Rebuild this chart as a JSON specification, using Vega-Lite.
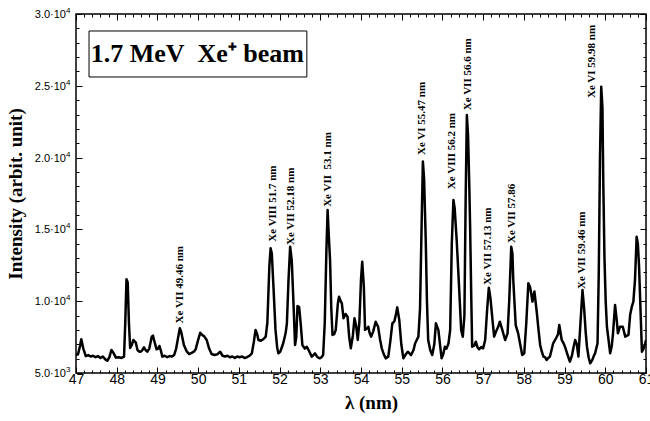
{
  "$schema": "https://vega.github.io/schema/vega-lite/v6.json",
  "width": 570,
  "height": 359,
  "autosize": {"type": "none"},
  "padding": {"left": 76, "top": 14, "right": 4, "bottom": 48},
  "background": "white",
  "config": {
    "view": {"stroke": "black", "strokeWidth": 1.5},
    "axis": {"grid": false, "domain": false, "tickColor": "black", "tickWidth": 1, "labelColor": "black", "titleColor": "black"}
  },
  "datasets": {
    "spectrum": [
      {"wl": 47.00, "I": 6250}, {"wl": 47.05, "I": 6300}, {"wl": 47.10, "I": 6900}, {"wl": 47.13, "I": 7350}, {"wl": 47.18, "I": 6700},
      {"wl": 47.24, "I": 6180}, {"wl": 47.30, "I": 6250}, {"wl": 47.36, "I": 6150}, {"wl": 47.42, "I": 6200}, {"wl": 47.48, "I": 6100},
      {"wl": 47.54, "I": 6180}, {"wl": 47.60, "I": 6050}, {"wl": 47.66, "I": 6150}, {"wl": 47.72, "I": 5950}, {"wl": 47.77, "I": 5850},
      {"wl": 47.82, "I": 6100}, {"wl": 47.87, "I": 6600}, {"wl": 47.92, "I": 6400}, {"wl": 47.98, "I": 6070}, {"wl": 48.05, "I": 6100},
      {"wl": 48.12, "I": 6050}, {"wl": 48.18, "I": 6140}, {"wl": 48.21, "I": 8500}, {"wl": 48.24, "I": 11525}, {"wl": 48.27, "I": 11300},
      {"wl": 48.30, "I": 8500}, {"wl": 48.33, "I": 6740}, {"wl": 48.37, "I": 6950}, {"wl": 48.41, "I": 7300}, {"wl": 48.47, "I": 7110},
      {"wl": 48.51, "I": 6600}, {"wl": 48.55, "I": 6500}, {"wl": 48.59, "I": 6480}, {"wl": 48.63, "I": 6600}, {"wl": 48.67, "I": 6790},
      {"wl": 48.71, "I": 6600}, {"wl": 48.75, "I": 6480}, {"wl": 48.80, "I": 6700}, {"wl": 48.86, "I": 7530}, {"wl": 48.89, "I": 7600},
      {"wl": 48.92, "I": 7250}, {"wl": 48.98, "I": 6650}, {"wl": 49.02, "I": 6700}, {"wl": 49.05, "I": 6880}, {"wl": 49.09, "I": 6500},
      {"wl": 49.12, "I": 6140}, {"wl": 49.18, "I": 6200}, {"wl": 49.24, "I": 6100}, {"wl": 49.30, "I": 6180}, {"wl": 49.36, "I": 6150},
      {"wl": 49.41, "I": 6250}, {"wl": 49.46, "I": 6700}, {"wl": 49.51, "I": 7500}, {"wl": 49.55, "I": 8110}, {"wl": 49.58, "I": 7900},
      {"wl": 49.65, "I": 6950}, {"wl": 49.72, "I": 6500}, {"wl": 49.78, "I": 6320}, {"wl": 49.84, "I": 6400}, {"wl": 49.90, "I": 6500},
      {"wl": 49.94, "I": 6650}, {"wl": 49.99, "I": 7200}, {"wl": 50.05, "I": 7800}, {"wl": 50.10, "I": 7650}, {"wl": 50.15, "I": 7550},
      {"wl": 50.21, "I": 7300}, {"wl": 50.27, "I": 6700}, {"wl": 50.33, "I": 6320}, {"wl": 50.40, "I": 6250}, {"wl": 50.47, "I": 6300},
      {"wl": 50.54, "I": 6480}, {"wl": 50.60, "I": 6200}, {"wl": 50.66, "I": 6150}, {"wl": 50.72, "I": 6200}, {"wl": 50.78, "I": 6100},
      {"wl": 50.84, "I": 6150}, {"wl": 50.90, "I": 6050}, {"wl": 50.96, "I": 6150}, {"wl": 51.02, "I": 6100}, {"wl": 51.08, "I": 6150},
      {"wl": 51.14, "I": 6050}, {"wl": 51.19, "I": 6090}, {"wl": 51.26, "I": 6200}, {"wl": 51.32, "I": 6370}, {"wl": 51.37, "I": 7200},
      {"wl": 51.41, "I": 8000}, {"wl": 51.45, "I": 7700}, {"wl": 51.48, "I": 7300}, {"wl": 51.54, "I": 7250}, {"wl": 51.60, "I": 7350},
      {"wl": 51.66, "I": 7530}, {"wl": 51.70, "I": 8500}, {"wl": 51.75, "I": 12500}, {"wl": 51.78, "I": 13680}, {"wl": 51.81, "I": 13300},
      {"wl": 51.85, "I": 11000}, {"wl": 51.90, "I": 8000}, {"wl": 51.94, "I": 6800}, {"wl": 51.97, "I": 6370}, {"wl": 52.02, "I": 6500},
      {"wl": 52.09, "I": 7070}, {"wl": 52.15, "I": 7800}, {"wl": 52.18, "I": 8460}, {"wl": 52.22, "I": 11500}, {"wl": 52.26, "I": 13800},
      {"wl": 52.30, "I": 12800}, {"wl": 52.34, "I": 10000}, {"wl": 52.38, "I": 6950}, {"wl": 52.41, "I": 7500}, {"wl": 52.44, "I": 9670},
      {"wl": 52.48, "I": 9600}, {"wl": 52.52, "I": 8400}, {"wl": 52.56, "I": 6950}, {"wl": 52.62, "I": 6700}, {"wl": 52.67, "I": 6830},
      {"wl": 52.73, "I": 6500}, {"wl": 52.79, "I": 6140}, {"wl": 52.83, "I": 6250}, {"wl": 52.87, "I": 6370}, {"wl": 52.93, "I": 6100},
      {"wl": 52.99, "I": 6020}, {"wl": 53.03, "I": 6100}, {"wl": 53.07, "I": 6250}, {"wl": 53.11, "I": 8500}, {"wl": 53.15, "I": 13500},
      {"wl": 53.18, "I": 16350}, {"wl": 53.21, "I": 14500}, {"wl": 53.24, "I": 12870}, {"wl": 53.27, "I": 9500}, {"wl": 53.30, "I": 7650},
      {"wl": 53.34, "I": 7700}, {"wl": 53.38, "I": 8000}, {"wl": 53.43, "I": 9800}, {"wl": 53.46, "I": 10310}, {"wl": 53.50, "I": 10000},
      {"wl": 53.53, "I": 9850}, {"wl": 53.57, "I": 8810}, {"wl": 53.62, "I": 9110}, {"wl": 53.67, "I": 8920}, {"wl": 53.71, "I": 7500},
      {"wl": 53.75, "I": 6720}, {"wl": 53.80, "I": 7600}, {"wl": 53.84, "I": 8810}, {"wl": 53.88, "I": 8300}, {"wl": 53.92, "I": 7300},
      {"wl": 53.96, "I": 8500}, {"wl": 54.00, "I": 11500}, {"wl": 54.03, "I": 12750}, {"wl": 54.07, "I": 11000}, {"wl": 54.10, "I": 8000},
      {"wl": 54.14, "I": 8100}, {"wl": 54.18, "I": 8220}, {"wl": 54.21, "I": 7800}, {"wl": 54.25, "I": 7530}, {"wl": 54.30, "I": 7900},
      {"wl": 54.36, "I": 8570}, {"wl": 54.42, "I": 8220}, {"wl": 54.47, "I": 7300}, {"wl": 54.51, "I": 6720}, {"wl": 54.56, "I": 6300},
      {"wl": 54.61, "I": 6020}, {"wl": 54.67, "I": 6140}, {"wl": 54.72, "I": 7200}, {"wl": 54.77, "I": 8460}, {"wl": 54.82, "I": 8600},
      {"wl": 54.86, "I": 9100}, {"wl": 54.89, "I": 9570}, {"wl": 54.94, "I": 8690}, {"wl": 54.99, "I": 7000}, {"wl": 55.04, "I": 6020},
      {"wl": 55.10, "I": 6300}, {"wl": 55.15, "I": 6480}, {"wl": 55.23, "I": 6250}, {"wl": 55.29, "I": 6600}, {"wl": 55.33, "I": 7070},
      {"wl": 55.41, "I": 7530}, {"wl": 55.45, "I": 9500}, {"wl": 55.49, "I": 15500}, {"wl": 55.52, "I": 19720}, {"wl": 55.55, "I": 18500},
      {"wl": 55.59, "I": 14260}, {"wl": 55.62, "I": 10000}, {"wl": 55.65, "I": 7300}, {"wl": 55.70, "I": 6600}, {"wl": 55.75, "I": 6250},
      {"wl": 55.80, "I": 7000}, {"wl": 55.84, "I": 8460}, {"wl": 55.90, "I": 8000}, {"wl": 55.94, "I": 7000}, {"wl": 55.98, "I": 6020},
      {"wl": 56.02, "I": 6300}, {"wl": 56.06, "I": 6830}, {"wl": 56.10, "I": 6700}, {"wl": 56.15, "I": 7070}, {"wl": 56.19, "I": 8000},
      {"wl": 56.23, "I": 14000}, {"wl": 56.27, "I": 17050}, {"wl": 56.30, "I": 16500}, {"wl": 56.35, "I": 14260}, {"wl": 56.40, "I": 11500},
      {"wl": 56.46, "I": 8000}, {"wl": 56.50, "I": 7530}, {"wl": 56.54, "I": 9000}, {"wl": 56.57, "I": 17000}, {"wl": 56.60, "I": 22970},
      {"wl": 56.63, "I": 21500}, {"wl": 56.66, "I": 18000}, {"wl": 56.68, "I": 15190}, {"wl": 56.71, "I": 10000}, {"wl": 56.73, "I": 6830},
      {"wl": 56.78, "I": 6900}, {"wl": 56.82, "I": 7180}, {"wl": 56.86, "I": 6800}, {"wl": 56.90, "I": 6650}, {"wl": 56.95, "I": 6800},
      {"wl": 57.00, "I": 6720}, {"wl": 57.05, "I": 7300}, {"wl": 57.10, "I": 9500}, {"wl": 57.14, "I": 10940}, {"wl": 57.18, "I": 10200},
      {"wl": 57.23, "I": 8690}, {"wl": 57.27, "I": 7530}, {"wl": 57.32, "I": 7900}, {"wl": 57.37, "I": 8220}, {"wl": 57.41, "I": 8570},
      {"wl": 57.46, "I": 8110}, {"wl": 57.50, "I": 7700}, {"wl": 57.54, "I": 7300}, {"wl": 57.60, "I": 7760}, {"wl": 57.64, "I": 10000},
      {"wl": 57.69, "I": 13800}, {"wl": 57.72, "I": 13300}, {"wl": 57.74, "I": 11480}, {"wl": 57.80, "I": 8340}, {"wl": 57.86, "I": 7760},
      {"wl": 57.91, "I": 7000}, {"wl": 57.96, "I": 6250}, {"wl": 58.01, "I": 6370}, {"wl": 58.06, "I": 8500}, {"wl": 58.11, "I": 11250},
      {"wl": 58.15, "I": 11000}, {"wl": 58.18, "I": 10550}, {"wl": 58.21, "I": 9970}, {"wl": 58.26, "I": 10670}, {"wl": 58.32, "I": 9160},
      {"wl": 58.36, "I": 8000}, {"wl": 58.40, "I": 6950}, {"wl": 58.44, "I": 6500}, {"wl": 58.48, "I": 6140}, {"wl": 58.52, "I": 6100},
      {"wl": 58.56, "I": 5905}, {"wl": 58.60, "I": 6050}, {"wl": 58.64, "I": 6140}, {"wl": 58.68, "I": 6600}, {"wl": 58.72, "I": 7070},
      {"wl": 58.79, "I": 7420}, {"wl": 58.84, "I": 7700}, {"wl": 58.87, "I": 8340}, {"wl": 58.93, "I": 7300}, {"wl": 58.97, "I": 7100},
      {"wl": 59.01, "I": 6830}, {"wl": 59.07, "I": 6300}, {"wl": 59.13, "I": 5790}, {"wl": 59.18, "I": 6200}, {"wl": 59.22, "I": 6800},
      {"wl": 59.26, "I": 7300}, {"wl": 59.30, "I": 7000}, {"wl": 59.34, "I": 6140}, {"wl": 59.38, "I": 8000}, {"wl": 59.44, "I": 10780},
      {"wl": 59.48, "I": 9500}, {"wl": 59.52, "I": 7800}, {"wl": 59.55, "I": 6830}, {"wl": 59.59, "I": 6100}, {"wl": 59.63, "I": 5675},
      {"wl": 59.68, "I": 5900}, {"wl": 59.72, "I": 6200}, {"wl": 59.75, "I": 6370}, {"wl": 59.81, "I": 7070}, {"wl": 59.84, "I": 12000},
      {"wl": 59.87, "I": 20000}, {"wl": 59.90, "I": 24940}, {"wl": 59.93, "I": 23500}, {"wl": 59.95, "I": 18440}, {"wl": 59.98, "I": 13000},
      {"wl": 60.01, "I": 10000}, {"wl": 60.04, "I": 8220}, {"wl": 60.08, "I": 7300}, {"wl": 60.12, "I": 6370}, {"wl": 60.16, "I": 6900},
      {"wl": 60.19, "I": 7760}, {"wl": 60.24, "I": 9735}, {"wl": 60.28, "I": 8700}, {"wl": 60.31, "I": 7760}, {"wl": 60.36, "I": 8220},
      {"wl": 60.43, "I": 8220}, {"wl": 60.49, "I": 7530}, {"wl": 60.57, "I": 7650}, {"wl": 60.61, "I": 9040}, {"wl": 60.65, "I": 9600},
      {"wl": 60.69, "I": 9970}, {"wl": 60.73, "I": 11500}, {"wl": 60.77, "I": 14490}, {"wl": 60.80, "I": 14000}, {"wl": 60.83, "I": 12400},
      {"wl": 60.87, "I": 9000}, {"wl": 60.90, "I": 6480}, {"wl": 60.94, "I": 6700}, {"wl": 60.98, "I": 7070}, {"wl": 61.00, "I": 7300}
    ],
    "peaks": [
      {"x": 49.555, "y": 8450, "label": "Xe VII 49.46 nm"},
      {"x": 51.83, "y": 14140, "label": "Xe VIII 51.7 nm"},
      {"x": 52.29, "y": 13910, "label": "Xe VII 52.18 nm"},
      {"x": 53.20, "y": 16570, "label": "Xe VII\u00a0 53.1 nm"},
      {"x": 55.50, "y": 20180, "label": "Xe VI 55.47 nm"},
      {"x": 56.245, "y": 17800, "label": "Xe VIII 56.2 nm"},
      {"x": 56.64, "y": 23300, "label": "Xe VII 56.6 nm"},
      {"x": 57.13, "y": 11130, "label": "Xe VII 57.13 nm"},
      {"x": 57.70, "y": 14050, "label": "Xe VII 57.86"},
      {"x": 59.44, "y": 10850, "label": "Xe VII 59.46 nm"},
      {"x": 59.67, "y": 24150, "label": "Xe VI 59.98 nm"}
    ],
    "ylabels": [
      {"v": 5000, "m": "5.0·10", "e": "3"},
      {"v": 10000, "m": "1.0·10", "e": "4"},
      {"v": 15000, "m": "1.5·10", "e": "4"},
      {"v": 20000, "m": "2.0·10", "e": "4"},
      {"v": 25000, "m": "2.5·10", "e": "4"},
      {"v": 30000, "m": "3.0·10", "e": "4"}
    ],
    "box": [{"x": 47.32, "x2": 52.67, "y": 28817, "y2": 25613}],
    "boxtext": [{"x": 49.98, "y": 26658, "t": "1.7 MeV\u00a0 Xe\u207a beam"}]
  },
  "layer": [
    {
      "data": {"name": "spectrum"},
      "mark": {"type": "line", "color": "black", "strokeWidth": 2.5, "strokeJoin": "round", "clip": true},
      "encoding": {
        "x": {
          "field": "wl", "type": "quantitative",
          "scale": {"domain": [47, 61], "nice": false, "zero": false},
          "axis": {
            "orient": "bottom",
            "values": [47,47.2,47.4,47.6,47.8,48,48.2,48.4,48.6,48.8,49,49.2,49.4,49.6,49.8,50,50.2,50.4,50.6,50.8,51,51.2,51.4,51.6,51.8,52,52.2,52.4,52.6,52.8,53,53.2,53.4,53.6,53.8,54,54.2,54.4,54.6,54.8,55,55.2,55.4,55.6,55.8,56,56.2,56.4,56.6,56.8,57,57.2,57.4,57.6,57.8,58,58.2,58.4,58.6,58.8,59,59.2,59.4,59.6,59.8,60,60.2,60.4,60.6,60.8,61],
            "labelExpr": "datum.value % 1 === 0 ? format(datum.value, 'd') : ''",
            "tickSize": {"condition": {"test": "datum.value % 1 === 0", "value": -6}, "value": -3},
            "labelFont": "Liberation Sans", "labelFontSize": 14, "labelPadding": 5,
            "labelFlush": false, "labelOverlap": false,
            "title": "λ (nm)", "titleFont": "Liberation Serif", "titleFontWeight": "bold", "titleFontSize": 19, "titlePadding": 4,
            "titleX": 295
          }
        },
        "y": {
          "field": "I", "type": "quantitative",
          "scale": {"domain": [5000, 30000], "nice": false, "zero": false},
          "axis": {
            "orient": "left",
            "values": [5000,6000,7000,8000,9000,10000,11000,12000,13000,14000,15000,16000,17000,18000,19000,20000,21000,22000,23000,24000,25000,26000,27000,28000,29000,30000],
            "labels": false,
            "tickSize": {"condition": {"test": "datum.value % 5000 === 0", "value": -6}, "value": -3},
            "title": "Intensity (arbit. unit)", "titleFont": "Liberation Serif", "titleFontWeight": "bold", "titleFontSize": 19, "titlePadding": 50
          }
        }
      }
    },
    {
      "data": {"name": "peaks"},
      "mark": {"type": "text", "angle": 270, "align": "left", "baseline": "middle", "font": "Liberation Serif", "fontWeight": "bold", "fontSize": 11, "color": "black"},
      "encoding": {
        "x": {
          "field": "x", "type": "quantitative",
          "scale": {"domain": [47, 61], "nice": false, "zero": false},
          "axis": {
            "orient": "top", "labels": false, "title": null,
            "values": [47,47.2,47.4,47.6,47.8,48,48.2,48.4,48.6,48.8,49,49.2,49.4,49.6,49.8,50,50.2,50.4,50.6,50.8,51,51.2,51.4,51.6,51.8,52,52.2,52.4,52.6,52.8,53,53.2,53.4,53.6,53.8,54,54.2,54.4,54.6,54.8,55,55.2,55.4,55.6,55.8,56,56.2,56.4,56.6,56.8,57,57.2,57.4,57.6,57.8,58,58.2,58.4,58.6,58.8,59,59.2,59.4,59.6,59.8,60,60.2,60.4,60.6,60.8,61],
            "tickSize": {"condition": {"test": "datum.value % 1 === 0", "value": -6}, "value": -3}
          }
        },
        "y": {
          "field": "y", "type": "quantitative",
          "scale": {"domain": [5000, 30000], "nice": false, "zero": false},
          "axis": {
            "orient": "right", "labels": false, "title": null,
            "values": [5000,6000,7000,8000,9000,10000,11000,12000,13000,14000,15000,16000,17000,18000,19000,20000,21000,22000,23000,24000,25000,26000,27000,28000,29000,30000],
            "tickSize": {"condition": {"test": "datum.value % 5000 === 0", "value": -6}, "value": -3}
          }
        },
        "text": {"field": "label"}
      }
    },
    {
      "data": {"name": "ylabels"},
      "mark": {"type": "text", "align": "right", "baseline": "middle", "dx": -10, "dy": 1, "font": "Liberation Sans", "fontSize": 11, "color": "black"},
      "encoding": {
        "x": {"datum": 47, "type": "quantitative", "axis": null},
        "y": {"field": "v", "type": "quantitative", "axis": null},
        "text": {"field": "m"}
      }
    },
    {
      "data": {"name": "ylabels"},
      "mark": {"type": "text", "align": "left", "baseline": "middle", "dx": -10, "dy": -3, "font": "Liberation Sans", "fontSize": 8, "color": "black"},
      "encoding": {
        "x": {"datum": 47, "type": "quantitative", "axis": null},
        "y": {"field": "v", "type": "quantitative", "axis": null},
        "text": {"field": "e"}
      }
    },
    {
      "data": {"name": "box"},
      "mark": {"type": "rect", "fill": "white", "stroke": "black", "strokeWidth": 1},
      "encoding": {
        "x": {"field": "x", "type": "quantitative", "axis": null},
        "x2": {"field": "x2"},
        "y": {"field": "y", "type": "quantitative", "axis": null},
        "y2": {"field": "y2"}
      }
    },
    {
      "data": {"name": "boxtext"},
      "mark": {"type": "text", "align": "center", "baseline": "alphabetic", "font": "Liberation Serif", "fontWeight": "bold", "fontSize": 26, "color": "black"},
      "encoding": {
        "x": {"field": "x", "type": "quantitative", "axis": null},
        "y": {"field": "y", "type": "quantitative", "axis": null},
        "text": {"field": "t"}
      }
    }
  ],
  "resolve": {"axis": {"x": "independent", "y": "independent"}}
}
